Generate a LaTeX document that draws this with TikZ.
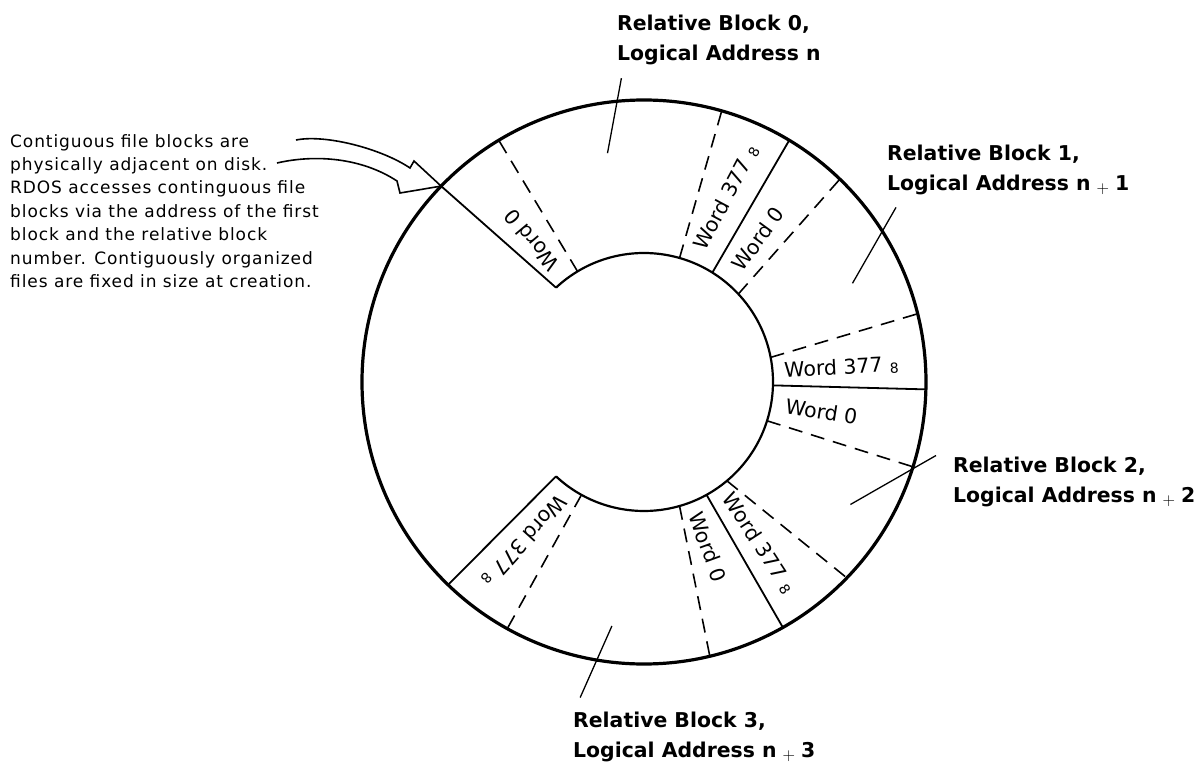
\documentclass[tikz,border=0pt]{standalone}
\usepackage{fontspec}
\setmainfont{DejaVu Sans}
\newfontfamily\notefont{DejaVu Sans}[LetterSpace=5.4]
\usepackage{tikz}
\usetikzlibrary{positioning}

\newcommand{\octsub}{\hspace{0.35em}\raisebox{-1.5pt}{\fontsize{14}{14}\selectfont 8}}
\newcommand{\lplus}{\hspace{0.3em}\raisebox{-2.5pt}{\fontsize{16}{16}\selectfont\mdseries$+$}\hspace{0.3em}}

\tikzset{
  word/.style={font=\fontsize{20.5}{20.5}\selectfont, inner sep=0pt},
  blocklabel/.style={font=\bfseries\fontsize{20.4}{30}\selectfont, align=left, anchor=north west, inner sep=0pt},
  note/.style={font=\notefont\fontsize{17}{23.4}\selectfont, align=left, anchor=north west, inner sep=0pt},
  border/.style={line width=1.8pt},
  wordline/.style={line width=1.6pt, dash pattern=on 14pt off 9pt},
  leader/.style={line width=1.3pt}
}

\begin{document}
\begin{tikzpicture}[x=1pt,y=1pt]
  \useasboundingbox (-644,-382) rectangle (559,382);
  \fill[white] (-644,-382) rectangle (559,382);

  % Disk
  \draw[line width=3.2pt] (0,0) circle (282);
  \draw[line width=2.2pt] (133:129) arc[start angle=133, end angle=-133, radius=129];

  % Block borders
  \foreach \a/\b in {133/136, 58/59, -1.5/-1.5, -61/-60.5, -133/-134}
    \draw[border] (\a:129) -- (\b:282);

  % Word boundaries
  \foreach \a/\b in {121/121, 74/74, 43/46, 11/14, -17.5/-17.5, -50/-44, -74/-76.5, -119/-119}
    \draw[wordline] (\a:129) -- (\b:282);

  % Words
  \node[word, rotate=130] (w0first) at (128.5:181) {Word 0};
  \node[word, rotate=62] (w0last) at (66:202) {Word 377\octsub};
  \node[word, rotate=54] (w1first) at (51.5:183) {Word 0};
  \node[word, rotate=3] (w1last) at (4.2:198) {Word 377\octsub};
  \node[word, rotate=-9] (w2first) at (-9.5:180) {Word 0};
  \node[word, rotate=-57] (w2last) at (-54.5:198) {Word 377\octsub};
  \node[word, rotate=-70] (w3first) at (-68.8:177) {Word 0};
  \node[word, rotate=-132] (w3last) at (-127:199) {Word 377\octsub};

  % Block labels
  \node[blocklabel] (blk0) at (-27,367) {Relative Block 0,\\Logical Address n};
  \node[blocklabel] (blk1) at (243,237) {Relative Block 1,\\Logical Address n\lplus 1};
  \node[blocklabel] (blk2) at (309,-75) {Relative Block 2,\\Logical Address n\lplus 2};
  \node[blocklabel] (blk3) at (-71,-330) {Relative Block 3,\\Logical Address n\lplus 3};

  % Leaders
  \coordinate (b0out) at (-22.6,303.8);
  \coordinate (b0in) at (-36.5,228.8);
  \coordinate (b1out) at (252,174.6);
  \coordinate (b1in) at (208.5,98.7);
  \coordinate (b2out) at (292,-73.5);
  \coordinate (b2in) at (206.4,-122.5);
  \coordinate (b3out) at (-63.8,-315.5);
  \coordinate (b3in) at (-32.1,-244);
  \draw[leader] (b0out) -- (b0in);
  \draw[leader] (b1out) -- (b1in);
  \draw[leader] (b2out) -- (b2in);
  \draw[leader] (b3out) -- (b3in);

  % Note and arrow
  \node[note] (note) at (-634,248) {Contiguous file blocks are\\
    physically adjacent on disk.\\
    RDOS accesses continguous file\\
    blocks via the address of the first\\
    block and the relative block\\
    number. Contiguously organized\\
    files are fixed in size at creation.};
  \coordinate (tip) at (136:282);
  \coordinate (upstart) at (-348,242);
  \coordinate (upend) at (-234,214);
  \coordinate (upwing) at (-230,221);
  \coordinate (lostart) at (-367,219);
  \coordinate (loend) at (-247,201);
  \coordinate (lowing) at (-244,189);
  \draw[line width=1.6pt, line join=miter] (upstart) .. controls (-318,248) and (-262,233) .. (upend)
    -- (upwing) -- (tip) -- (lowing) -- (loend) .. controls (-282,224) and (-328,228) .. (lostart);
\end{tikzpicture}
\end{document}
